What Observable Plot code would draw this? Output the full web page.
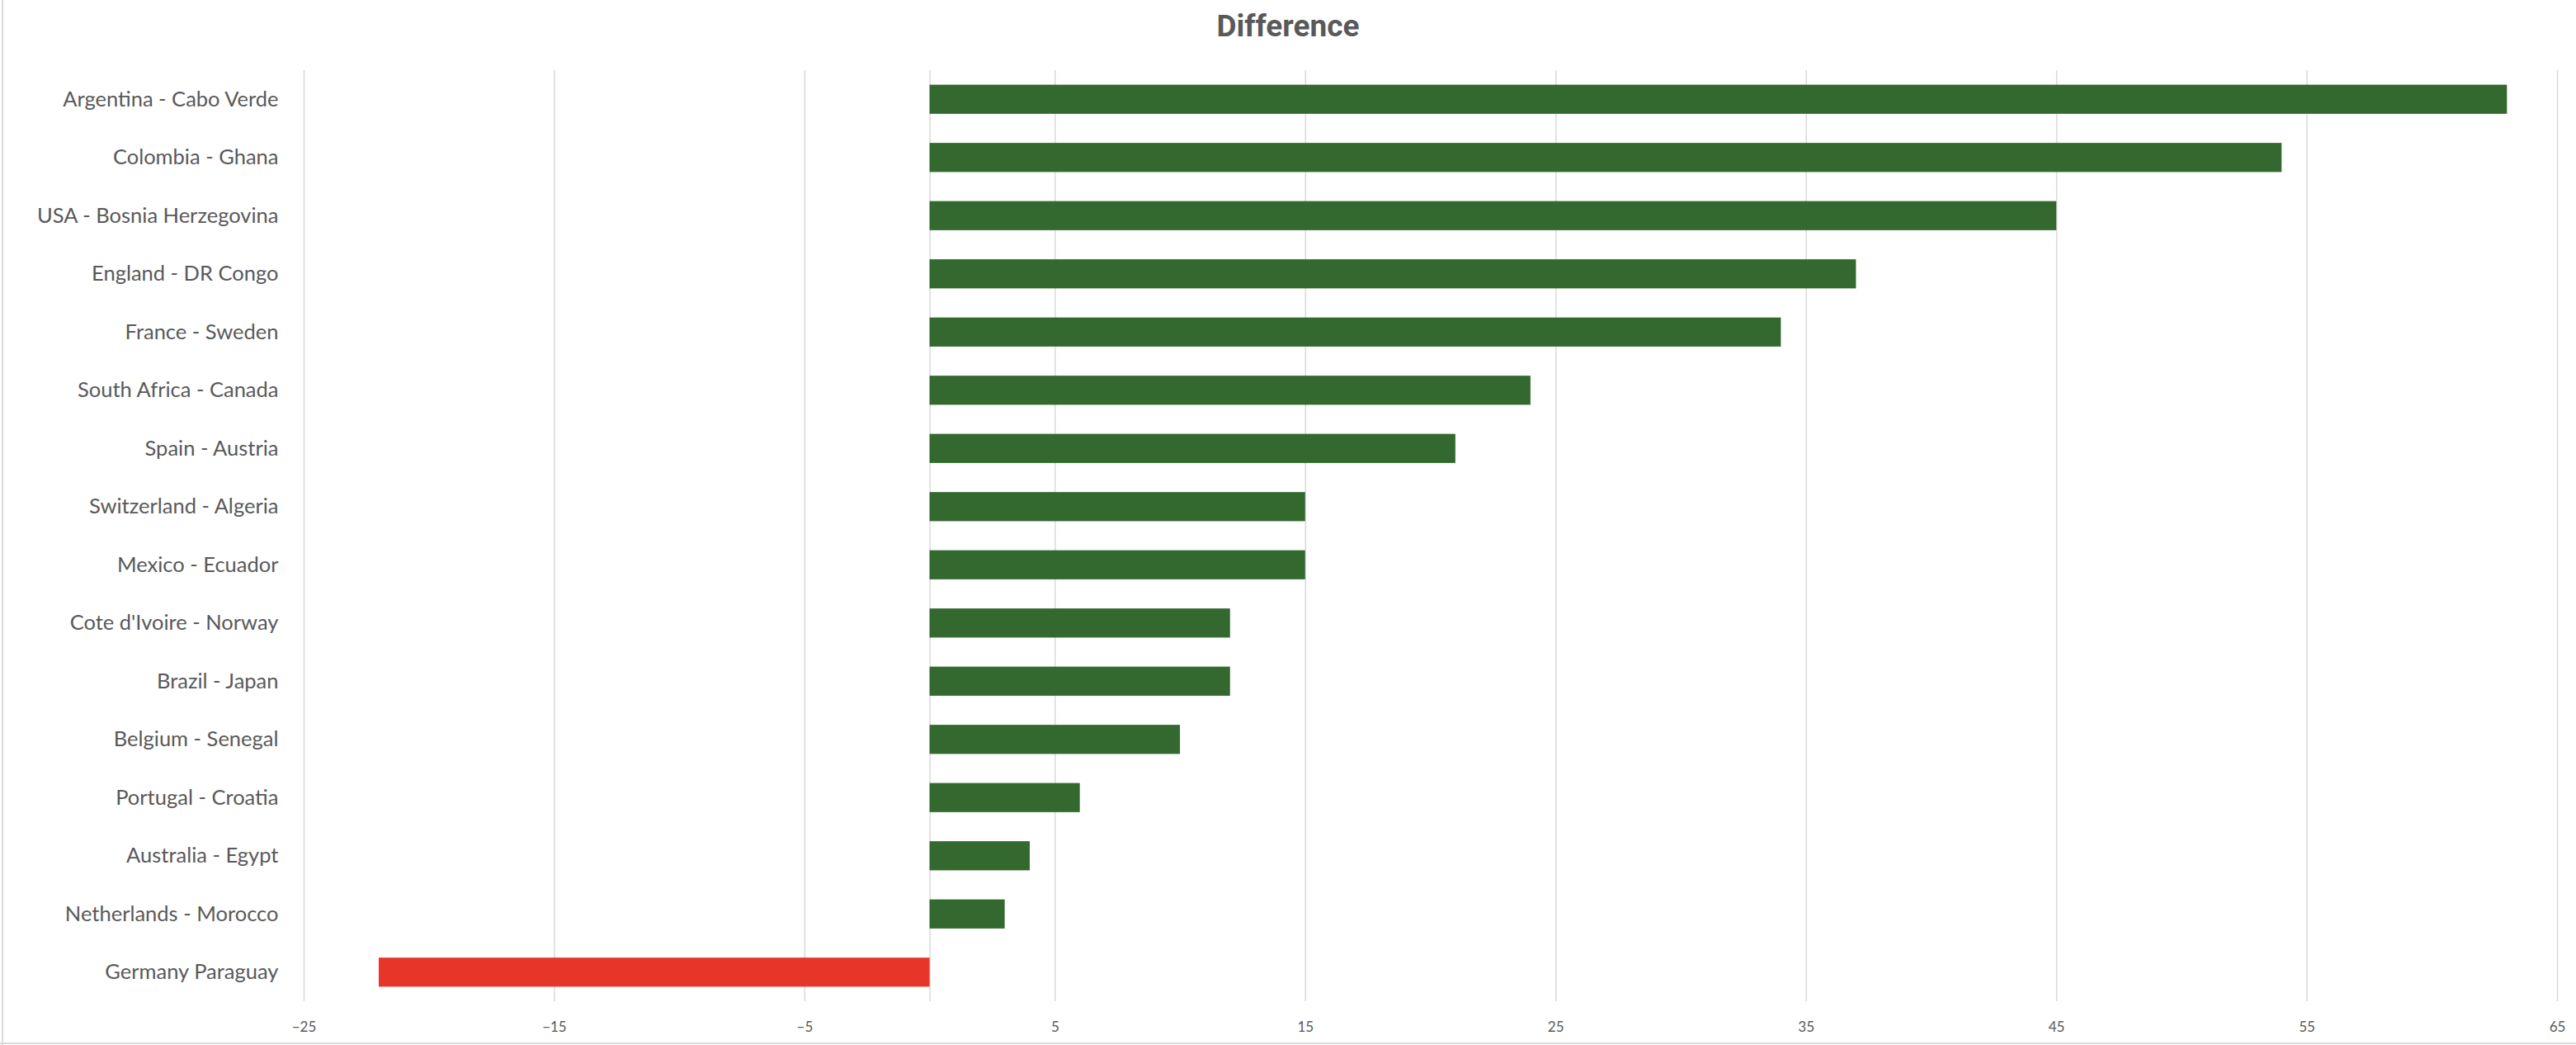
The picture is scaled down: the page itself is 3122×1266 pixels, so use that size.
<!DOCTYPE html>
<html>
<head>
<meta charset="utf-8">
<script src="https://cdn.jsdelivr.net/npm/d3@7"></script>
<script src="https://cdn.jsdelivr.net/npm/@observablehq/plot@0.6"></script>
<style>
  html, body { margin: 0; padding: 0; background: #ffffff; }
  #wrap { position: relative; width: 3122px; height: 1266px; overflow: hidden; background: #fff; }
  #title { position: absolute; left: 0; top: 0; width: 3122px; height: 64px; line-height: 64px;
           text-align: center; font-family: Roboto, "Liberation Sans", sans-serif; font-weight: 700;
           font-size: 37px; color: #595959; }
  #chart { position: absolute; left: 0; top: 64px; }
  #bleft { position: absolute; left: 2px; top: 0; width: 2px; height: 1266px; background: #d9d9d9; }
  #bbottom { position: absolute; left: 0; top: 1263px; width: 3122px; height: 2px; background: #d9d9d9; }
</style>
</head>
<body>
<div id="wrap">
  <div id="bleft"></div>
  <div id="bbottom"></div>
  <div id="title">Difference</div>
  <div id="chart"></div>
</div>
<script>
const categories = [
  "Argentina - Cabo Verde",
  "Colombia - Ghana",
  "USA - Bosnia Herzegovina",
  "England - DR Congo",
  "France - Sweden",
  "South Africa - Canada",
  "Spain - Austria",
  "Switzerland - Algeria",
  "Mexico - Ecuador",
  "Cote d'Ivoire - Norway",
  "Brazil - Japan",
  "Belgium - Senegal",
  "Portugal - Croatia",
  "Australia - Egypt",
  "Netherlands - Morocco",
  "Germany Paraguay"
];
const values = [63, 54, 45, 37, 34, 24, 21, 15, 15, 12, 12, 10, 6, 4, 3, -22];
const xTicks = [-25, -15, -5, 5, 15, 25, 35, 45, 55, 65];
const xDomain = [-25, 65];

const positiveColor = "#33692E";
const negativeColor = "#E8352A";
const gridColor = "#D9D9D9";
const textColor = "#595959";

const data = categories.map((c, i) => ({category: c, value: values[i]}));

const chart = Plot.plot({
  width: 3122,
  height: 1202,
  marginTop: 21,
  marginBottom: 53,
  marginLeft: 368,
  marginRight: 23,
  style: {fontFamily: "Lato, 'Open Sans', sans-serif", color: textColor, background: "transparent"},
  x: {domain: xDomain, ticks: xTicks},
  y: {domain: categories, paddingInner: 0.5, paddingOuter: 0.25, round: false},
  marks: [
    Plot.gridX(xTicks, {stroke: gridColor, strokeOpacity: 1, strokeWidth: 1.5}),
    Plot.ruleX([0], {stroke: gridColor, strokeWidth: 1.5}),
    Plot.barX(data, {
      x: "value",
      y: "category",
      fill: d => d.value < 0 ? negativeColor : positiveColor
    }),
    Plot.axisX(xTicks, {tickSize: 0, tickPadding: 24, fontSize: 17, fill: textColor, label: null}),
    Plot.axisY({tickSize: 0, tickPadding: 31, fontSize: 25.5, fill: textColor, label: null})
  ]
});
document.getElementById("chart").appendChild(chart);
</script>
</body>
</html>
